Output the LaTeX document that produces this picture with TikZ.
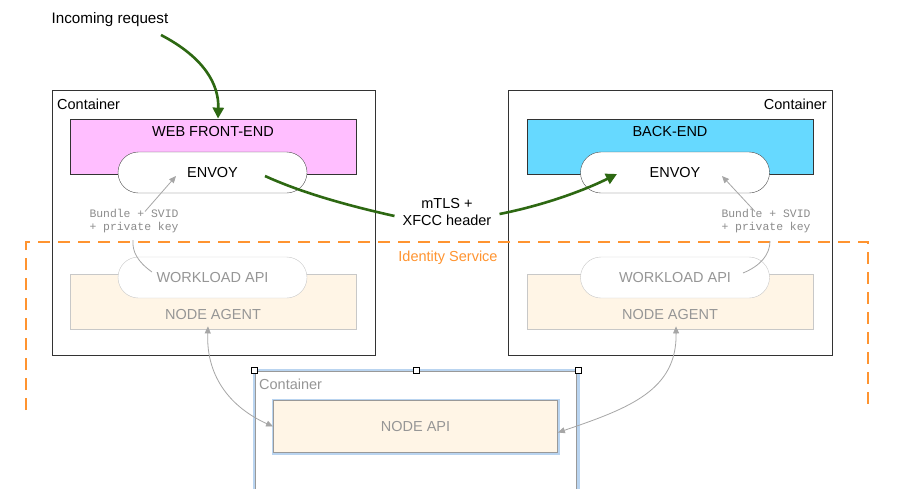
\documentclass[tikz,border=0pt]{standalone}
\usepackage{fontspec}
\setmainfont{Liberation Sans}
\newfontfamily\monof{Liberation Mono}
\usetikzlibrary{arrows.meta}
\definecolor{grn}{RGB}{45,104,18}
\definecolor{org}{RGB}{255,148,48}
\definecolor{pinkf}{RGB}{255,190,255}
\definecolor{cyanf}{RGB}{102,217,255}
\definecolor{cream}{RGB}{255,245,230}
\definecolor{ltgray}{RGB}{200,200,200}
\definecolor{txgray}{RGB}{150,150,150}
\definecolor{selblue}{RGB}{185,212,240}
\tikzset{
  lbl/.style={font=\fontsize{14.5}{17}\selectfont, inner sep=0pt},
  cont/.style={draw=black!80, line width=0.9pt, minimum width=#1, inner sep=0pt},
  appbox/.style={draw=black!80, line width=0.8pt, minimum width=286pt, minimum height=55pt, inner sep=0pt},
  stadium/.style={draw=black!70, fill=white, rounded corners=20.5pt, minimum width=189pt, minimum height=41pt, inner sep=0pt, font=\fontsize{14.5}{17}\selectfont},
  wstadium/.style={draw=ltgray, fill=white, rounded corners=20.5pt, minimum width=189pt, minimum height=41pt, inner sep=0pt, text=txgray, font=\fontsize{14.5}{17}\selectfont},
  agentbox/.style={draw=ltgray, fill=cream, line width=0.8pt, minimum width=286pt, minimum height=55pt, inner sep=0pt},
  mono/.style={font=\monof\fontsize{11.4}{13}\selectfont, text=black!45, align=center, inner sep=0pt},
  garrow/.style={draw=grn, line width=2.6pt, -{Triangle[length=11pt,width=11pt]}},
  gline/.style={draw=grn, line width=2.6pt},
  grayarr/.style={draw=black!35, line width=0.8pt, -{Triangle[length=7pt,width=6pt]}},
  grayline/.style={draw=black!35, line width=0.8pt},
  graybi/.style={draw=black!35, line width=0.8pt, {Triangle[length=7pt,width=6pt]}-{Triangle[length=7pt,width=6pt]}},
  handle/.style={draw=black, fill=white, line width=0.8pt, minimum size=6pt, inner sep=0pt},
}
\begin{document}
\begin{tikzpicture}[x=1pt,y=-1pt]
\clip (0,0) rectangle (900,488);
\fill[white] (0,0) rectangle (900,488);

% containers
\node[cont=323pt, minimum height=265pt] (lc) at (213.5,222.5) {};
\node[cont=324pt, minimum height=265pt] (rc) at (670,222.5) {};
\node[lbl, anchor=west] (lct) at (57,104) {Container};
\node[lbl, anchor=east] (rct) at (827,104) {Container};

% left app
\node[appbox, fill=pinkf] (web) at (213,146.5) {};
\node[lbl] (webt) at (213,132) {WEB FRONT-END};
\node[stadium] (envl) at (212.5,172.5) {ENVOY};
\node[agentbox] (nal) at (213,301.5) {};
\node[lbl, text=txgray] (nalt) at (213,315) {NODE AGENT};
\node[wstadium] (wll) at (212.5,277.5) {WORKLOAD API};

% right app
\node[appbox, fill=cyanf] (back) at (670,146.5) {};
\node[lbl] (backt) at (670,132) {BACK-END};
\node[stadium] (envr) at (675,172.5) {ENVOY};
\node[agentbox] (nar) at (670,301.5) {};
\node[lbl, text=txgray] (nart) at (670,315) {NODE AGENT};
\node[wstadium] (wlr) at (675,277.5) {WORKLOAD API};

% bundle labels
\node[mono] (bl) at (134,221.5) {Bundle + SVID\\+ private key};
\node[mono] (br) at (766,221.5) {Bundle + SVID\\+ private key};

% identity service
\draw[org, line width=2.2pt, dash pattern=on 12pt off 8pt] (26,410) -- (26,242) -- (868,242) -- (868,410);
\node[lbl, text=org] (ids) at (448,258) {Identity Service};

% bottom container
\draw[selblue, line width=3pt] (254,500) -- (254,370) -- (578,370) -- (578,500);
\draw[black!40, line width=0.7pt] (255.5,500) -- (255.5,371.5) -- (576.5,371.5) -- (576.5,500);
\node[lbl, text=txgray, anchor=west] (bct) at (259,384) {Container};
\node[draw=selblue, line width=3pt, minimum width=285pt, minimum height=53pt] (napig) at (415.5,426.5) {};
\node[draw=black!40, fill=cream, line width=0.8pt, minimum width=284pt, minimum height=52pt, inner sep=0pt, lbl, text=txgray] (napi) at (415.5,426.5) {NODE API};
\node[handle] (h1) at (254,370) {};
\node[handle] (h2) at (416,370) {};
\node[handle] (h3) at (578,370) {};

% incoming request
\node[lbl, font=\fontsize{15.2}{18}\selectfont] (inc) at (110,20) {Incoming request};
\coordinate (incs) at (161,35);
\draw[garrow] (incs) .. controls (205,58) and (219,85) .. ([xshift=5pt]web.north);

% mTLS
\node[lbl, align=center] (mtls) at (447,212) {mTLS +\\XFCC header};
\coordinate (g1s) at (265,176);
\coordinate (g2e) at (617,174);
\draw[gline] (g1s) .. controls (300,192) and (345,205) .. ([xshift=-8pt,yshift=-4pt]mtls.west);
\draw[garrow] ([xshift=8pt,yshift=-2pt]mtls.east) .. controls (545,205) and (585,190) .. (g2e);

% gray key arrows
\coordinate (kl) at (176,176);
\coordinate (kr) at (722,176);
\draw[grayarr] ([xshift=11pt,yshift=-2pt]bl.north) -- (kl);
\draw[grayline] (152,272) .. controls (138,262) and (132,252) .. (133,240);
\draw[grayarr] ([xshift=-11pt,yshift=-2pt]br.north) -- (kr);
\draw[grayline] (743,273) .. controls (760,266) and (770,255) .. (770,241);

% node agent <-> node api
\draw[graybi] ([xshift=-5pt,yshift=3pt]nal.south) .. controls (206,378) and (232,408) .. (napi.west);
\draw[graybi] ([xshift=6pt,yshift=3pt]nar.south) .. controls (677,390) and (630,408) .. ([yshift=-6pt]napi.east);
\end{tikzpicture}
\end{document}
